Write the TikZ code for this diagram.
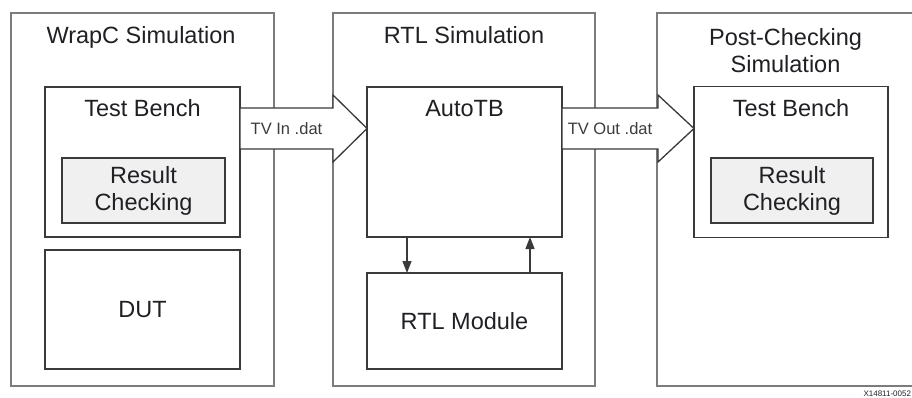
\documentclass[tikz,border=0pt]{standalone}
\usepackage{fontspec}
\setmainfont{Liberation Sans}
\usetikzlibrary{arrows.meta}
\definecolor{boxgray}{HTML}{7C7C7C}
\definecolor{linedark}{HTML}{3A3A3A}
\definecolor{rcfill}{HTML}{F0F0F0}
\definecolor{txtdark}{HTML}{202024}
\definecolor{tvgray}{HTML}{3C3C3C}
\begin{document}
\begin{tikzpicture}[x=1pt, y=-1pt,
    every node/.style={inner sep=0pt, outer sep=0pt, text=txtdark,
      font=\fontsize{23.5}{27}\selectfont},
    outer/.style={draw=boxgray, line width=2pt, fill=white},
    inner/.style={draw=linedark, line width=1.6pt, fill=white},
    check/.style={inner, fill=rcfill, align=center},
    tvlabel/.style={font=\fontsize{16.5}{20}\selectfont, text=tvgray},
    bigarrow/.style={draw=linedark, line width=1.3pt, fill=white, line join=miter},
    >={Triangle[length=12pt, width=9pt]}]
  \useasboundingbox (0,0) rectangle (912,398);

  % simulation boxes
  \node[outer, minimum width=263pt, minimum height=373pt] (wrapc) at (142.5,199.5) {};
  \node[outer, minimum width=262pt, minimum height=373pt] (rtlsim) at (464,199.5) {};
  \node[outer, minimum width=256pt, minimum height=373pt] (postsim) at (785,199.5) {};

  \node[anchor=base] (wrapct) at (141,44) {WrapC Simulation};
  \node[anchor=base] (rtlsimt) at (464,44) {RTL Simulation};
  \node[align=center] (postsimt) at (785.5,50.5) {Post-Checking\\Simulation};

  % WrapC side
  \node[inner, minimum width=195pt, minimum height=150pt] (tb1) at (142.5,162) {};
  \node[anchor=base] (tb1t) at (142.5,117) {Test Bench};
  \node[check, minimum width=163pt, minimum height=65pt] (rc1) at (143.5,190.5) {Result\\Checking};
  \node[inner, minimum width=195pt, minimum height=119pt] (dut) at (142.5,309.5) {DUT};

  % RTL side
  \node[inner, minimum width=195pt, minimum height=150pt] (autotb) at (464.5,162) {};
  \node[anchor=base] (autotbt) at (464.5,117) {AutoTB};
  \node[inner, minimum width=195pt, minimum height=96pt] (rtl) at (464.5,321) {RTL Module};

  \draw[->, linedark, line width=1.3pt] ([xshift=-57.5pt]autotb.south) -- ([xshift=-57.5pt]rtl.north);
  \draw[->, linedark, line width=1.3pt] ([xshift=65.5pt]rtl.north) -- ([xshift=65.5pt]autotb.south);

  % post-checking side
  \node[inner, minimum width=194pt, minimum height=151pt] (tb3) at (791,162) {};
  \node[anchor=base] (tb3t) at (791,117) {Test Bench};
  \node[check, minimum width=162pt, minimum height=65pt] (rc3) at (792,190.5) {Result\\Checking};

  % test vector arrows
  \draw[bigarrow] (240,108) -- (333,108) -- (333,95) -- (367,128.5) -- (333,162)
    -- (333,149) -- (240,149) -- cycle;
  \node[tvlabel, anchor=base] (tvin) at (286.5,135) {TV In .dat};

  \draw[bigarrow] (562,108) -- (658,108) -- (658,95) -- (694,128.5) -- (658,162)
    -- (658,149) -- (562,149) -- cycle;
  \node[tvlabel, anchor=base] (tvout) at (610,135) {TV Out .dat};

  \node[font=\fontsize{8}{9}\selectfont, text=txtdark, anchor=base east] (figid) at (911,396) {X14811-0052};
\end{tikzpicture}
\end{document}
